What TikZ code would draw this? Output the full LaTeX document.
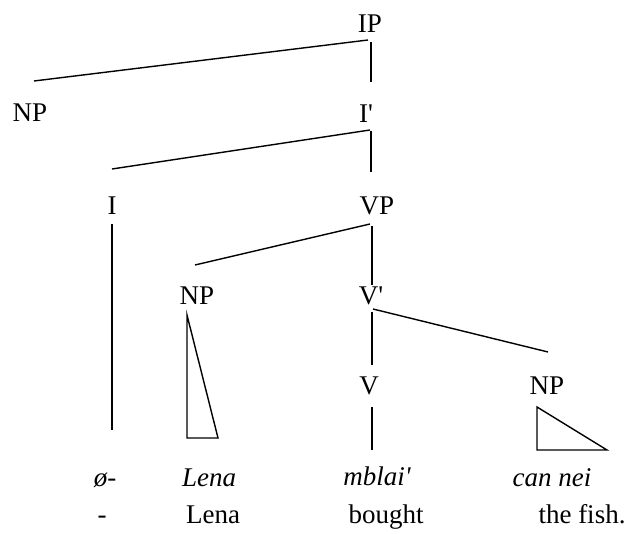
\documentclass[tikz,border=0pt]{standalone}
\usepackage{fontspec}
\setmainfont{Liberation Serif}[Ligatures=TeXOff]
\begin{document}
\begin{tikzpicture}[x=1pt,y=-1pt,
  lab/.style={font=\fontsize{27}{30}\selectfont, inner sep=0pt, anchor=base},
  br/.style={line width=1.4pt, black}]
\useasboundingbox (0,0) rectangle (630,534);
\node[lab] (ip) at (370,33) {IP};
\node[lab] (np1) at (30,122) {NP};
\node[lab] (ib) at (366,123) {I'};
\node[lab] (i) at (112,215) {I};
\node[lab] (vp) at (377,215) {VP};
\node[lab] (np2) at (197,305) {NP};
\node[lab] (vb) at (371,305) {V'};
\node[lab] (v) at (369,395) {V};
\node[lab] (np3) at (547,395) {NP};
\node[lab] (w1) at (105,487) {\itshape ø-};
\node[lab] (w2) at (209,487) {\itshape Lena};
\node[lab] (w3) at (377,486) {\itshape mblai'};
\node[lab] (w4) at (552,487) {\itshape can nei};
\node[lab] (g1) at (102,524) {-};
\node[lab] (g2) at (213,524) {Lena};
\node[lab] (g3) at (386,524) {bought};
\node[lab] (g4) at (582,524) {the fish.};
\coordinate (ipb) at (368,40);
\coordinate (npt) at (34,81);
\draw[br] (ipb) -- (npt);
\draw[br] (371,42) -- (371,82);
\draw[br] (370,130) -- (112,169);
\draw[br] (371,131) -- (371,172);
\draw[br] (112,224) -- (112,430);
\draw[br] (370,224) -- (195,265);
\draw[br] (372,226) -- (372,285);
\draw[br] (187,315) -- (187,438) -- (218,438) -- cycle;
\draw[br] (372,312) -- (372,365);
\draw[br] (373,309) -- (548,352);
\draw[br] (372,407) -- (372,450);
\draw[br] (537,407) -- (537,450) -- (607,450) -- cycle;
\end{tikzpicture}
\end{document}
